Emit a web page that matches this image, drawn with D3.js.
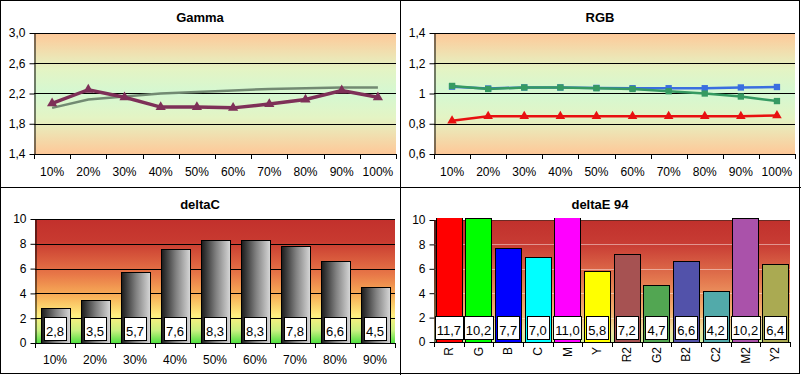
<!DOCTYPE html>
<html>
<head>
<meta charset="utf-8">
<script src="https://cdn.jsdelivr.net/npm/d3@7"></script>
<style>
  body { margin: 0; background: #fff; }
  svg { display: block; font-family: "Liberation Sans", Arial, sans-serif; }
</style>
</head>
<body>
<svg id="chart" width="801" height="375"></svg>
<script>
// Gamma data
var gammaCategories = ['10%', '20%', '30%', '40%', '50%', '60%', '70%', '80%', '90%', '100%'];
var gammaMeasured = [2.07, 2.25, 2.15, 2.02, 2.02, 2.01, 2.06, 2.12, 2.24, 2.15];
var gammaTarget = [2.01, 2.12, 2.16, 2.20, 2.22, 2.24, 2.26, 2.27, 2.28, 2.28];
var gammaTicks = [1.4, 1.8, 2.2, 2.6, 3.0];
var gammaTickLabels = ['1,4', '1,8', '2,2', '2,6', '3,0'];

// RGB balance data
var rgbCategories = ['10%', '20%', '30%', '40%', '50%', '60%', '70%', '80%', '90%', '100%'];
var rgbRed = [0.82, 0.85, 0.85, 0.85, 0.85, 0.85, 0.85, 0.85, 0.85, 0.855];
var rgbGreen = [1.05, 1.03, 1.04, 1.04, 1.035, 1.03, 1.015, 1.0, 0.98, 0.95];
var rgbBlue = [1.045, 1.033, 1.04, 1.04, 1.037, 1.035, 1.035, 1.035, 1.04, 1.043];
var rgbTicks = [0.6, 0.8, 1, 1.2, 1.4];
var rgbTickLabels = ['0,6', '0,8', '1', '1,2', '1,4'];

// deltaC data
var deltaCCategories = ['10%', '20%', '30%', '40%', '50%', '60%', '70%', '80%', '90%'];
var deltaCValues = [2.8, 3.5, 5.7, 7.6, 8.3, 8.3, 7.8, 6.6, 4.5];

// deltaE 94 data
var deltaECategories = ['R', 'G', 'B', 'C', 'M', 'Y', 'R2', 'G2', 'B2', 'C2', 'M2', 'Y2'];
var deltaEValues = [11.7, 10.2, 7.7, 7.0, 11.0, 5.8, 7.2, 4.7, 6.6, 4.2, 10.2, 6.4];
var deltaTicks = [0, 2, 4, 6, 8, 10];
var deltaTickLabels = ['0', '2', '4', '6', '8', '10'];

var svg = d3.select('#chart');
var defs = svg.append('defs');

// Helper to make a gradient
function addGradient(id, stops, horizontal) {
  var grad = defs.append('linearGradient')
    .attr('id', id)
    .attr('x1', 0).attr('y1', 0)
    .attr('x2', horizontal ? 1 : 0).attr('y2', horizontal ? 0 : 1);
  stops.forEach(function(s) {
    grad.append('stop').attr('offset', s[0]).attr('stop-color', s[1]);
  });
}

// Backgrounds
addGradient('bgLine', [[0, '#fec898'], [0.3, '#e4f4c4'], [0.5, '#d4f8d2'], [0.7, '#e4f4c4'], [1, '#fec898']]);
addGradient('bgDeltaC', [[0, '#c2302c'], [0.18, '#c83a30'], [0.45, '#e87848'], [0.62, '#f8b058'], [0.78, '#fff080'], [0.9, '#c8f080'], [1, '#50e040']]);
addGradient('bgDeltaE', [[0, '#c0302c'], [0.2, '#c83c34'], [0.5, '#e47a50'], [0.75, '#f4b070'], [0.9, '#f0e0a0'], [1, '#d0f0a0']]);
addGradient('barGrey', [[0, '#1a1a1a'], [0.5, '#808080'], [1, '#d8d8d8']], true);

// Panel frame
svg.append('rect')
  .attr('x', 0.5).attr('y', 0.5)
  .attr('width', 799).attr('height', 373)
  .attr('fill', 'none').attr('stroke', '#000');
svg.append('line')
  .attr('x1', 400.5).attr('x2', 400.5).attr('y1', 0).attr('y2', 375)
  .attr('stroke', '#000');
svg.append('line')
  .attr('x1', 0).attr('x2', 801).attr('y1', 187.5).attr('y2', 187.5)
  .attr('stroke', '#000');

// Draw the title
function drawTitle(text, x, y) {
  svg.append('text')
    .attr('x', x).attr('y', y)
    .attr('text-anchor', 'middle')
    .attr('font-size', 13).attr('font-weight', 'bold')
    .text(text);
}

// Draw y axis with labels and gridlines
function drawYAxis(box, y, ticks, labels, gridColor, gridTop) {
  var g = svg.append('g');

  // Gridlines
  g.selectAll('.grid')
    .data(ticks.slice(1))
    .enter().append('line')
    .attr('x1', box.left).attr('x2', box.right)
    .attr('y1', function(d) { return Math.round(y(d)) + 0.5; })
    .attr('y2', function(d) { return Math.round(y(d)) + 0.5; })
    .attr('stroke', function(d, i) { return i === ticks.length - 2 && gridTop ? gridTop : gridColor; });

  // Axis
  var axis = d3.axisLeft(y)
    .tickValues(ticks)
    .tickSize(5)
    .tickSizeOuter(0)
    .tickFormat(function(d, i) { return labels[i]; });
  var ag = svg.append('g')
    .attr('transform', 'translate(' + (box.left + 0.5) + ',0)')
    .call(axis);
  ag.selectAll('text').attr('font-size', 12).attr('font-family', null).attr('fill', '#000').attr('x', -9);
  ag.selectAll('line, path').attr('stroke', '#000');
  return g;
}

// Draw x axis with tick marks on category boundaries
function drawXAxis(box, x, categories, labelY, rotate) {
  var g = svg.append('g');
  var bounds = d3.range(categories.length + 1).map(function(i) {
    return x.range()[0] + i * x.step();
  });

  g.append('line')
    .attr('x1', box.left).attr('x2', box.right)
    .attr('y1', box.bottom + 0.5).attr('y2', box.bottom + 0.5)
    .attr('stroke', '#000');

  g.selectAll('.tk')
    .data(bounds)
    .enter().append('line')
    .attr('x1', function(d) { return Math.round(d) + 0.5; })
    .attr('x2', function(d) { return Math.round(d) + 0.5; })
    .attr('y1', box.bottom).attr('y2', box.bottom + 5)
    .attr('stroke', '#000');

  var labels = g.selectAll('.lbl')
    .data(categories)
    .enter().append('text')
    .attr('font-size', 12)
    .text(function(d) { return d; });

  if (rotate) {
    labels
      .attr('text-anchor', 'end')
      .attr('dy', '0.35em')
      .attr('transform', function(d) {
        return 'translate(' + (x(d) + x.bandwidth() / 2) + ',' + labelY + ') rotate(-90)';
      });
  } else {
    labels
      .attr('text-anchor', 'middle')
      .attr('x', function(d) { return x(d) + x.bandwidth() / 2; })
      .attr('y', labelY);
  }
}

// Line chart panel
function drawLineChart(opts) {
  var box = opts.box;
  var x = d3.scaleBand().domain(opts.categories).range([box.left, box.right]);
  var y = d3.scaleLinear().domain(opts.domain).range([box.bottom, box.top]);

  svg.append('rect')
    .attr('x', box.left).attr('y', box.top)
    .attr('width', box.right - box.left).attr('height', box.bottom - box.top)
    .attr('fill', 'url(#bgLine)');

  drawYAxis(box, y, opts.ticks, opts.tickLabels, '#000');
  drawXAxis(box, x, opts.categories, box.bottom + 22, false);

  var line = d3.line()
    .x(function(d, i) { return x(opts.categories[i]) + x.bandwidth() / 2; })
    .y(function(d) { return y(d); });

  opts.series.forEach(function(s) {
    svg.append('path')
      .datum(s.values)
      .attr('d', line)
      .attr('fill', 'none')
      .attr('stroke', s.color)
      .attr('stroke-width', s.width);

    if (s.marker) {
      svg.selectAll(null)
        .data(s.values)
        .enter().append('path')
        .attr('d', d3.symbol().type(s.marker).size(s.markerSize))
        .attr('transform', function(d, i) {
          return 'translate(' + (x(opts.categories[i]) + x.bandwidth() / 2) + ',' + y(d) + ')';
        })
        .attr('fill', s.color);
    }
  });
}

// Bar chart panel
function drawBarChart(opts) {
  var box = opts.box;
  var x = d3.scaleBand().domain(opts.categories).range([box.left, box.right])
    .paddingInner(opts.padding).paddingOuter(opts.padding / 2);
  var y = d3.scaleLinear().domain([0, 10]).range([box.bottom, box.top]);

  svg.append('rect')
    .attr('x', box.left).attr('y', box.top)
    .attr('width', box.right - box.left).attr('height', box.bottom - box.top)
    .attr('fill', opts.background);

  drawYAxis(box, y, deltaTicks, deltaTickLabels, opts.gridColor, opts.gridTop);

  // Clip bars a little above the plot top
  var clipId = 'clip' + opts.id;
  defs.append('clipPath').attr('id', clipId)
    .append('rect')
    .attr('x', box.left).attr('y', box.top - 2)
    .attr('width', box.right - box.left).attr('height', box.bottom - box.top + 2);

  var bars = svg.append('g').attr('clip-path', 'url(#' + clipId + ')');
  bars.selectAll('rect')
    .data(opts.values)
    .enter().append('rect')
    .attr('x', function(d, i) { return Math.round(x(opts.categories[i])) + 0.5; })
    .attr('y', function(d) { return Math.round(y(d)) + 0.5; })
    .attr('width', Math.round(x.bandwidth()))
    .attr('height', function(d) { return box.bottom - Math.round(y(d)); })
    .attr('fill', function(d, i) { return opts.fill(opts.categories[i]); })
    .attr('stroke', '#000');

  drawXAxis(box, x, opts.categories, opts.labelY, opts.rotate);

  // Value labels in white boxes
  var lbl = svg.append('g');
  opts.values.forEach(function(v, i) {
    var cx = x(opts.categories[i]) + x.bandwidth() / 2;
    var g = lbl.append('g');
    var rect = g.append('rect');
    var t = g.append('text')
      .attr('x', cx).attr('y', box.bottom - 7)
      .attr('text-anchor', 'middle')
      .attr('font-size', 13)
      .text(d3.format('.1f')(v).replace('.', ','));
    var w = t.node().getComputedTextLength() + 4;
    rect
      .attr('x', Math.round(cx - w / 2) + 0.5)
      .attr('y', box.bottom - 25.5)
      .attr('width', Math.round(w))
      .attr('height', 23)
      .attr('fill', '#fff')
      .attr('stroke', '#000');
  });
}

// Gamma
drawTitle('Gamma', 200, 22);
drawLineChart({
  box: { left: 34, top: 33, right: 396, bottom: 154 },
  categories: gammaCategories,
  domain: [1.4, 3.0],
  ticks: gammaTicks,
  tickLabels: gammaTickLabels,
  series: [
    { values: gammaTarget, color: '#728a72', width: 2.5 },
    { values: gammaMeasured, color: '#7e3058', width: 3.5, marker: d3.symbolTriangle, markerSize: 45 }
  ]
});

// RGB
drawTitle('RGB', 600, 22);
drawLineChart({
  box: { left: 434, top: 33, right: 795, bottom: 154 },
  categories: rgbCategories,
  domain: [0.6, 1.4],
  ticks: rgbTicks,
  tickLabels: rgbTickLabels,
  series: [
    { values: rgbBlue, color: '#3a6ee0', width: 2.5, marker: d3.symbolSquare, markerSize: 40 },
    { values: rgbGreen, color: '#369a62', width: 2.5, marker: d3.symbolSquare, markerSize: 40 },
    { values: rgbRed, color: '#e81010', width: 2.5, marker: d3.symbolTriangle, markerSize: 40 }
  ]
});

// deltaC
drawTitle('deltaC', 200, 209);
drawBarChart({
  id: 'C',
  box: { left: 35, top: 219, right: 395, bottom: 343 },
  categories: deltaCCategories,
  values: deltaCValues,
  padding: 0.28,
  background: 'url(#bgDeltaC)',
  gridColor: '#000',
  fill: function() { return 'url(#barGrey)'; },
  labelY: 364,
  rotate: false
});

// deltaE 94
var deltaEColor = d3.scaleOrdinal()
  .domain(deltaECategories)
  .range(['#ff0000', '#00ff00', '#0000ff', '#00ffff', '#ff00ff', '#ffff00',
    '#a65252', '#52a652', '#5252aa', '#52aaaa', '#aa52aa', '#aaaa52']);

drawTitle('deltaE 94', 600, 209);
drawBarChart({
  id: 'E',
  box: { left: 434, top: 220, right: 790, bottom: 342 },
  categories: deltaECategories,
  values: deltaEValues,
  padding: 0.12,
  background: 'url(#bgDeltaE)',
  gridColor: 'rgba(255,255,255,0.45)',
  gridTop: '#6a2a24',
  fill: deltaEColor,
  labelY: 347,
  rotate: true
});
</script>
</body>
</html>
